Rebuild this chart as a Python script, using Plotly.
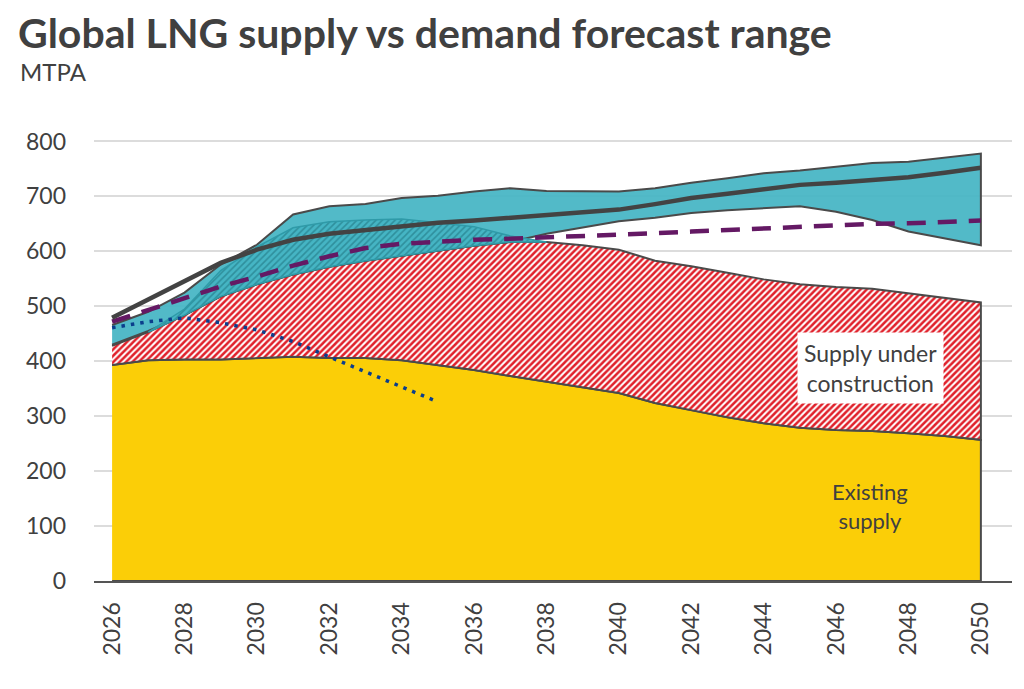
import plotly.graph_objects as go

# values (MTPA)
years = list(range(2026, 2051))

existing_supply = [393, 402, 403, 403, 406, 408, 406, 406, 402, 393, 384, 373, 363,
                   352, 342, 324, 311, 298, 287, 279, 275, 273, 269, 264, 257]
under_construction = [35, 51, 81, 115, 134, 150, 166, 177, 190, 208, 226, 244, 254,
                      259, 261, 259, 262, 263, 262, 261, 260, 259, 255, 252, 250]

# demand forecast range (low / high edge of the band)
demand_low = [430, 455, 484, 518, 540, 558, 572, 583, 592, 601, 610, 617, 632,
              644, 655, 661, 670, 675, 679, 682, 672, 657, 636, 624, 611]
demand_high = [466, 490, 525, 576, 612, 667, 682, 686, 697, 701, 709, 715, 710,
               709, 709, 715, 725, 733, 742, 747, 754, 761, 763, 770, 778]

# hatched part of the band (2027-2038)
overlap_years = list(range(2027, 2039))
overlap_top = [453, 495, 565, 608, 643, 654, 657, 659, 652, 645, 628, 617]

central_demand = [479, 512, 545, 579, 603, 621, 632, 639, 645, 652, 656, 661, 665,
                  671, 676, 686, 697, 705, 714, 721, 725, 730, 735, 743, 752]
dashed_demand = [472, 493, 515, 536, 554, 574, 591, 606, 614, 618, 621, 623, 625,
                 627, 630, 633, 636, 639, 642, 645, 648, 650, 651, 654, 656]
dotted_years = list(range(2026, 2036))
dotted_demand = [461, 472, 479, 470, 457, 436, 408, 381, 353, 326]

TXT = "#404040"
EDGE = "#4a4a4a"
YELLOW = "#FBCE07"
RED = "#E0202A"
TEAL = "#45B5C4"

supply_top = [e + u for e, u in zip(existing_supply, under_construction)]
top_lookup = dict(zip(years, supply_top))
overlap_bottom = [top_lookup[y] for y in overlap_years]


def polygon(xs, top, bottom):
    return xs + xs[::-1], list(top) + list(bottom)[::-1]


fig = go.Figure()

# existing supply
px_, py_ = polygon(years, existing_supply, [0] * len(years))
fig.add_trace(go.Scatter(x=px_, y=py_, fill="toself", fillcolor=YELLOW,
                         line=dict(color=EDGE, width=2), mode="lines", hoverinfo="skip"))

# supply under construction (hatched red)
px_, py_ = polygon(years, supply_top, existing_supply)
fig.add_trace(go.Scatter(x=px_, y=py_, fill="toself", fillcolor="white",
                         fillpattern=dict(shape="/", fgcolor=RED, fgopacity=1, bgcolor="white",
                                          size=4.5, solidity=0.55),
                         line=dict(color=EDGE, width=2), mode="lines", hoverinfo="skip"))

# demand range band
px_, py_ = polygon(years, demand_high, demand_low)
fig.add_trace(go.Scatter(x=px_, y=py_, fill="toself", fillcolor="rgba(69,181,196,0.93)",
                         line=dict(color=EDGE, width=2), mode="lines", hoverinfo="skip"))

# band overlapping supply (hatched teal)
px_, py_ = polygon(overlap_years, overlap_top, overlap_bottom)
fig.add_trace(go.Scatter(x=px_, y=py_, fill="toself", fillcolor=TEAL,
                         fillpattern=dict(shape="/", fgcolor="#2f8f9c", fgopacity=1, bgcolor=TEAL,
                                          size=4.5, solidity=0.35),
                         line=dict(color="#2f9aa8", width=1.5), mode="lines", hoverinfo="skip"))

# forecast lines
fig.add_trace(go.Scatter(x=years, y=dashed_demand, mode="lines",
                         line=dict(color="#641964", width=4.5, dash="19px,12px"), hoverinfo="skip"))
fig.add_trace(go.Scatter(x=years, y=central_demand, mode="lines",
                         line=dict(color="#434343", width=4.5), hoverinfo="skip"))
fig.add_trace(go.Scatter(x=dotted_years, y=dotted_demand, mode="lines",
                         line=dict(color="#0B3E8C", width=3.5, dash="3.5px,6px"), hoverinfo="skip"))

fig.add_annotation(x=2046.94, y=388, text="Supply under<br>construction", showarrow=False,
                   font=dict(size=23, color=TXT), bgcolor="white", borderpad=6)
fig.add_annotation(x=2046.94, y=137, text="Existing<br>supply", showarrow=False,
                   font=dict(size=22, color=TXT))
fig.add_annotation(xref="paper", yref="paper", x=-0.083, y=1.126, xanchor="left", yanchor="top",
                   text="MTPA", showarrow=False, font=dict(size=24, color=TXT))

# the page adds an 8px body margin, so the figure is 8px smaller than the window
fig.update_layout(
    width=1016, height=681,
    paper_bgcolor="white", plot_bgcolor="white",
    font=dict(family="Lato", color=TXT),
    showlegend=False,
    margin=dict(l=86, r=12, t=106, b=108),
    title=dict(text="<b>Global LNG supply vs demand forecast range</b>",
               xref="container", yref="container", x=0.0098, y=0.984,
               xanchor="left", yanchor="top", font=dict(size=41, color=TXT)),
)
fig.update_xaxes(range=[2025.5, 2050.86], tickvals=years[::2], tickangle=-90,
                 showgrid=False, showline=True, linecolor="#555555", linewidth=2,
                 ticks="", tickfont=dict(size=23, color=TXT), ticklabelstandoff=10)
fig.update_yaxes(range=[0, 850], tickvals=list(range(0, 801, 100)), showgrid=True,
                 gridcolor="#dcdcdc", gridwidth=1.5, zeroline=False,
                 tickfont=dict(size=23, color=TXT), ticklabelstandoff=27)

fig.write_html("out.html")
